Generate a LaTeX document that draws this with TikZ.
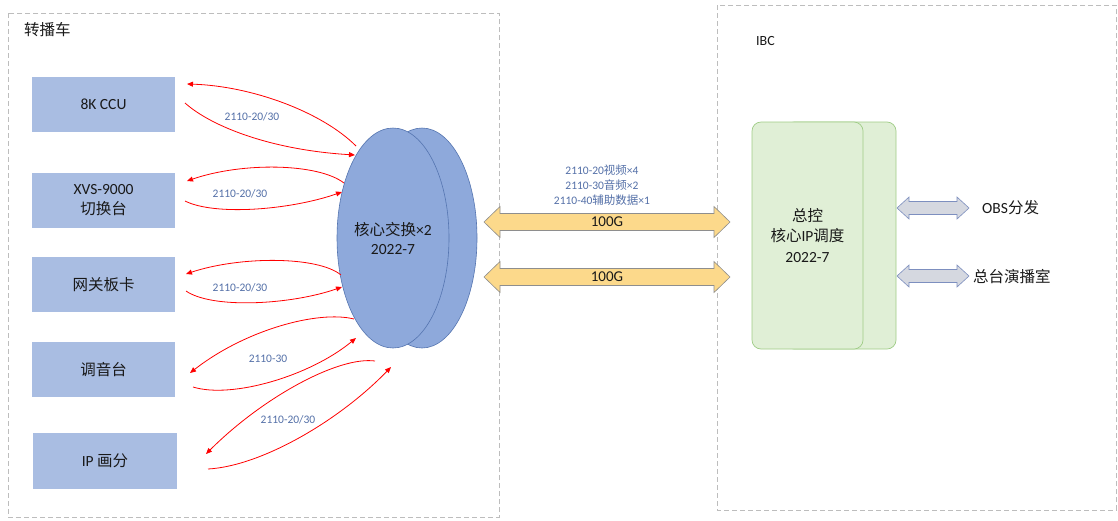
\documentclass[tikz,border=0pt]{standalone}
\usepackage{fontspec}
\setmainfont{Carlito}
\newfontfamily\cjk{Noto Sans CJK SC}
\usetikzlibrary{shapes.geometric,arrows.meta}
\definecolor{boxblue}{HTML}{A9BDE2}
\definecolor{ellfill}{HTML}{8EA9DB}
\definecolor{elldraw}{HTML}{5575B0}
\definecolor{lblblue}{HTML}{5470A8}
\definecolor{gfill}{HTML}{E0EFD6}
\definecolor{gdraw}{HTML}{9FCC86}
\definecolor{yfill}{HTML}{FCD98B}
\definecolor{ydraw}{HTML}{8E8E8E}
\definecolor{grfill}{HTML}{D5D8E0}
\definecolor{grdraw}{HTML}{7D8FBF}
\definecolor{dashgrey}{HTML}{BDBDBD}
\newcommand\myDblArrow[7]{%
  \draw[#7] (#1,#3) -- ({#1+#6},{#3-#5}) -- ({#1+#6},{#3-#4}) -- ({#2-#6},{#3-#4})
    -- ({#2-#6},{#3-#5}) -- (#2,#3) -- ({#2-#6},{#3+#5}) -- ({#2-#6},{#3+#4})
    -- ({#1+#6},{#3+#4}) -- ({#1+#6},{#3+#5}) -- cycle;}
\begin{document}
\begin{tikzpicture}[x=1pt,y=-1pt,
  frame/.style={draw=dashgrey,dash pattern=on 5pt off 3pt,line width=0.7pt},
  devbox/.style={fill=boxblue,minimum width=143pt,minimum height=55pt,align=center,
    font=\fontsize{15.5}{20}\selectfont,text=black!90,inner sep=0pt},
  core/.style={ellipse,fill=ellfill,draw=elldraw,line width=0.6pt,minimum width=112pt,
    minimum height=220pt,inner sep=0pt,align=center,font=\fontsize{15.5}{19}\selectfont,text=black!90},
  ctrl/.style={rounded corners=9pt,fill=gfill,draw=gdraw,line width=0.7pt,minimum width=111pt,
    minimum height=227pt,inner sep=0pt,align=center,font=\fontsize{15.5}{20.5}\selectfont,text=black!90},
  redlink/.style={draw=red,line width=0.8pt,-{Triangle[length=6pt,width=5pt]}},
  small/.style={font=\fontsize{11.5}{15}\selectfont,text=lblblue,inner sep=0pt,align=center},
  plain/.style={font=\fontsize{15.5}{19}\selectfont,text=black!90,inner sep=0pt},
  yarrow/.style={fill=yfill,draw=ydraw,line width=0.6pt},
  garrow/.style={fill=grfill,draw=grdraw,line width=0.6pt}]
\useasboundingbox (0,0) rectangle (1118,520);
\fill[white] (0,0) rectangle (1118,520);
% frames
\draw[frame] (8,13) rectangle (499,517);
\draw[frame] (717,5) rectangle (1116,510);
\node[plain,anchor=west] (t1) at (24,30) {\cjk 转播车};
\node[plain,anchor=west,font=\fontsize{14}{17}\selectfont] (t2) at (756,41) {IBC};
% devices
\node[devbox] (ccu) at (103.5,104.5) {8K CCU};
\node[devbox] (xvs) at (103.5,200) {XVS-9000\\{\cjk 切换台}};
\node[devbox] (gw) at (103.5,284.5) {\cjk 网关板卡};
\node[devbox] (mix) at (103.5,369.5) {\cjk 调音台};
\node[devbox,minimum width=144pt,minimum height=56pt] (ipmv) at (105,461) {IP {\cjk 画分}};
% core switch
\node[core,minimum width=110pt] (coreB) at (422,238) {};
\node[core] (coreA) at (393,238) {{\cjk 核心交换}×2\\2022-7};
% master control
\node[ctrl] (mcB) at (840.5,235.5) {};
\node[ctrl] (mcA) at (807.5,235.5) {{\cjk 总控}\\{\cjk 核心}IP{\cjk 调度}\\2022-7};
% red links
\coordinate (a1s) at (356,146); \coordinate (a1e) at (187,84);
\coordinate (b1s) at (185,103); \coordinate (b1e) at (355,155);
\coordinate (a2s) at (344,183); \coordinate (a2e) at (187,181);
\coordinate (b2s) at (185,201); \coordinate (b2e) at (342,192);
\coordinate (a3s) at (341,275); \coordinate (a3e) at (186,274);
\coordinate (b3s) at (186,291); \coordinate (b3e) at (342,287);
\coordinate (a4s) at (354,319); \coordinate (a4e) at (190,373);
\coordinate (b4s) at (193,387); \coordinate (b4e) at (356,338);
\coordinate (a5s) at (375,361); \coordinate (a5e) at (206,454);
\coordinate (b5s) at (208,469); \coordinate (b5e) at (391,367);
\draw[redlink] (a1s) .. controls (322,112) and (252,86) .. (a1e);
\draw[redlink] (b1s) .. controls (212,127) and (272,150) .. (b1e);
\draw[redlink] (a2s) .. controls (318,163) and (242,162) .. (a2e);
\draw[redlink] (b2s) .. controls (215,216) and (290,210) .. (b2e);
\draw[redlink] (a3s) .. controls (318,256) and (240,256) .. (a3e);
\draw[redlink] (b3s) .. controls (212,309) and (290,305) .. (b3e);
\draw[redlink] (a4s) .. controls (318,310) and (245,330) .. (a4e);
\draw[redlink] (b4s) .. controls (232,399) and (310,376) .. (b4e);
\draw[redlink] (a5s) .. controls (338,356) and (262,398) .. (a5e);
\draw[redlink] (b5s) .. controls (262,466) and (340,420) .. (b5e);
\node[small] (l1) at (252,117) {2110-20/30};
\node[small] (l2) at (240,194) {2110-20/30};
\node[small] (l3) at (240,288) {2110-20/30};
\node[small] (l4) at (268,359) {2110-30};
\node[small] (l5) at (288,420) {2110-20/30};
% 100G links
\myDblArrow{484}{730}{222}{8.5}{15.5}{16}{yarrow}
\myDblArrow{484}{730}{277}{8.5}{15.5}{16}{yarrow}
\node[plain,font=\fontsize{15}{17}\selectfont] (g1) at (607,222) {100G};
\node[plain,font=\fontsize{15}{17}\selectfont] (g2) at (607,277) {100G};
\node[small] (lbig) at (602,185) {2110-20{\cjk 视频}×4\\2110-30{\cjk 音频}×2\\2110-40{\cjk 辅助数据}×1};
% outputs
\myDblArrow{897}{969}{208}{6.5}{11}{12}{garrow}
\myDblArrow{897}{969}{276}{6.5}{11}{12}{garrow}
\node[plain,anchor=west] (obs) at (982,208) {OBS{\cjk 分发}};
\node[plain,anchor=west] (studio) at (973,277) {\cjk 总台演播室};
\end{tikzpicture}
\end{document}
